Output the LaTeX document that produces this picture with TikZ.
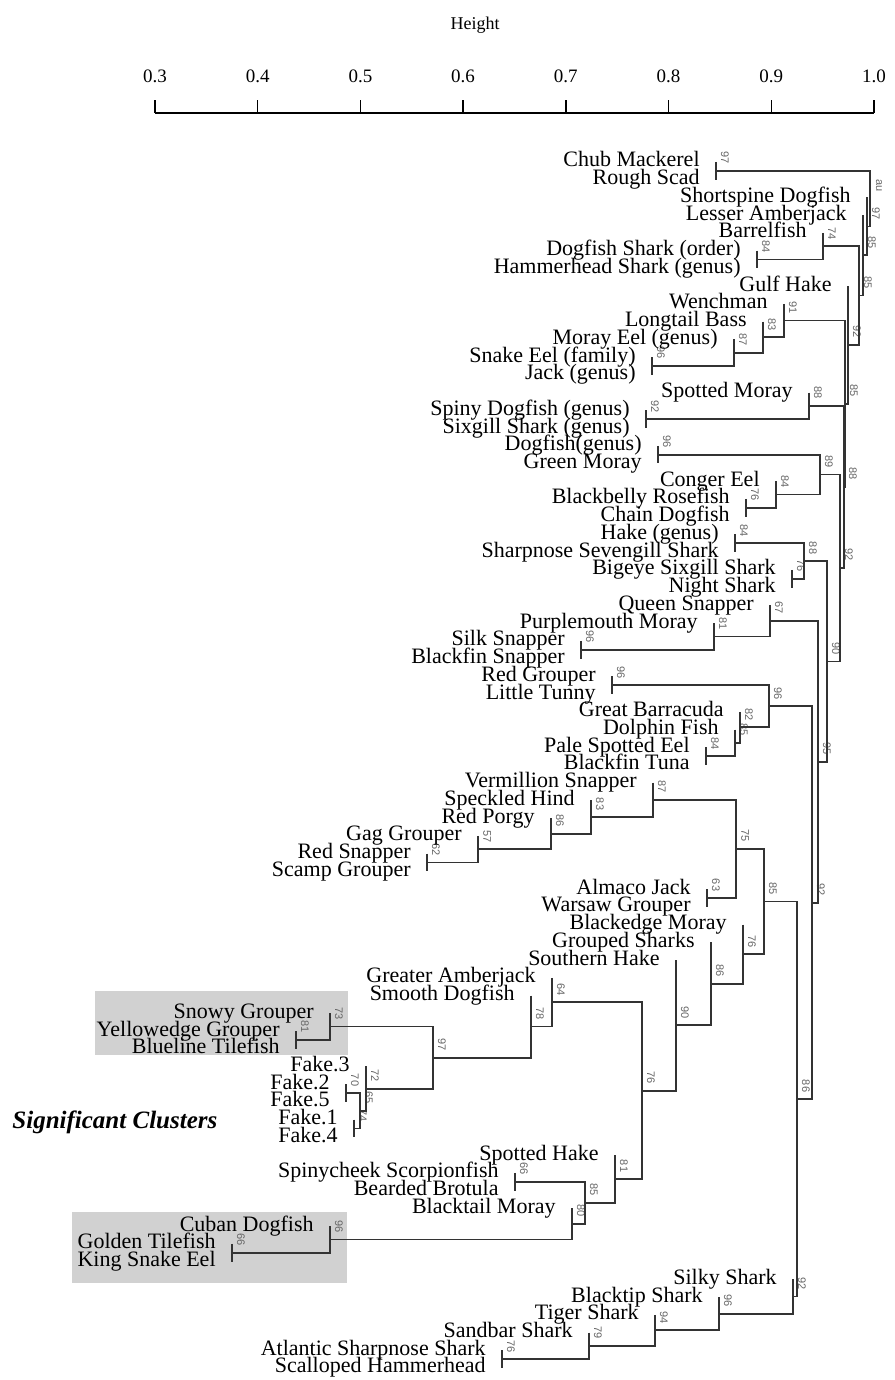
\documentclass[tikz,border=0pt]{standalone}
\usepackage{fontspec}
\setmainfont{Liberation Serif}
\setsansfont{Liberation Sans}
\usetikzlibrary{calc}
\tikzset{>=stealth}
\tikzset{
  branch/.style={line width=0.9pt, draw=black!80},
  fish/.style={anchor=base east, inner sep=0pt, text height=7pt, text depth=1.2pt, font=\fontsize{11}{11}\selectfont},
  pv/.style={rotate=-90, inner sep=0pt, text=black!60, font=\fontsize{5.5}{5.5}\sffamily},
  tick/.style={inner sep=0pt, font=\fontsize{9.5}{9.5}\selectfont},
}
\newcommand\leaf[3]{%
  \coordinate (f#1) at (#2,{162+(#1-1)*17.735});
  \node[fish] (f#1t) at ($(f#1)+(-16,5)$) {#3};}
\newcommand\clust[5]{%
  \path ($(#3)!.5!(#4)$) coordinate (#1m);
  \coordinate (#1) at (#2,0 |- #1m);
  \draw[branch] (#3) -- (#3 -| #1) -- (#4 -| #1) -- (#4);
  \node[pv] (#1v) at ($(#1)+(9,-13)$) {#5};}

\begin{document}
\begin{tikzpicture}[x=0.5pt,y=-0.5pt]
\useasboundingbox (0,0) rectangle (894,1380);
\fill[black!18] (95,991) rectangle (348,1055);
\fill[black!18] (72,1212) rectangle (347,1283);

\node[inner sep=0pt, font=\fontsize{9}{9}\selectfont] (ht) at (475,25) {Height};
\coordinate (ax0) at (155,113);
\coordinate (ax7) at (874,113);
\draw[line width=0.7pt] (ax0) -- (ax7);
\foreach \h [count=\i from 0] in {0.3,0.4,0.5,0.6,0.7,0.8,0.9,1.0}{
  \coordinate (tk\i) at ({155+\i*102.7},113);
  \coordinate (tp\i) at ({155+\i*102.7},100);
  \draw[line width=0.7pt] (tk\i) -- (tp\i);
  \node[tick] (tl\i) at ({155+\i*102.7},76) {\h};
}

\leaf{1}{716}{Chub Mackerel}
\leaf{2}{716}{Rough Scad}
\clust{a97}{716}{f1}{f2}{97}
\leaf{6}{757}{Dogfish Shark (order)}
\leaf{7}{757}{Hammerhead Shark (genus)}
\clust{p84}{757}{f6}{f7}{84}
\leaf{5}{823}{Barrelfish}
\clust{t74}{823}{f5}{p84}{74}
\leaf{12}{652}{Snake Eel (family)}
\leaf{13}{652}{Jack (genus)}
\clust{p96}{652}{f12}{f13}{96}
\leaf{11}{734}{Moray Eel (genus)}
\clust{p87}{734}{f11}{p96}{87}
\leaf{10}{763}{Longtail Bass}
\clust{p83}{763}{f10}{p87}{83}
\leaf{9}{784}{Wenchman}
\clust{p91}{784}{f9}{p83}{91}
\leaf{15}{646}{Spiny Dogfish (genus)}
\leaf{16}{646}{Sixgill Shark (genus)}
\clust{p92}{646}{f15}{f16}{92}
\leaf{14}{809}{Spotted Moray}
\clust{s88}{809}{f14}{p92}{88}
\leaf{17}{658}{Dogfish(genus)}
\leaf{18}{658}{Green Moray}
\clust{g96}{658}{f17}{f18}{96}
\leaf{20}{746}{Blackbelly Rosefish}
\leaf{21}{746}{Chain Dogfish}
\clust{b76}{746}{f20}{f21}{76}
\leaf{19}{776}{Conger Eel}
\clust{c84}{776}{f19}{b76}{84}
\clust{m89}{820}{g96}{c84}{89}
\leaf{22}{735}{Hake (genus)}
\leaf{23}{735}{Sharpnose Sevengill Shark}
\clust{h84}{735}{f22}{f23}{84}
\leaf{24}{792}{Bigeye Sixgill Shark}
\leaf{25}{792}{Night Shark}
\clust{n76}{792}{f24}{f25}{76}
\clust{h88}{804}{h84}{n76}{88}
\leaf{28}{581}{Silk Snapper}
\leaf{29}{581}{Blackfin Snapper}
\clust{s96}{581}{f28}{f29}{96}
\leaf{27}{714}{Purplemouth Moray}
\clust{u81}{714}{f27}{s96}{81}
\leaf{26}{770}{Queen Snapper}
\clust{q67}{770}{f26}{u81}{67}
\leaf{30}{612}{Red Grouper}
\leaf{31}{612}{Little Tunny}
\clust{r96}{612}{f30}{f31}{96}
\leaf{34}{706}{Pale Spotted Eel}
\leaf{35}{706}{Blackfin Tuna}
\clust{e84}{706}{f34}{f35}{84}
\leaf{33}{735}{Dolphin Fish}
\clust{d85}{735}{f33}{e84}{85}
\leaf{32}{740}{Great Barracuda}
\clust{g82}{740}{f32}{d85}{82}
\clust{k96}{769}{r96}{g82}{96}
\leaf{40}{427}{Red Snapper}
\leaf{41}{427}{Scamp Grouper}
\clust{r62}{427}{f40}{f41}{62}
\leaf{39}{478}{Gag Grouper}
\clust{g57}{478}{f39}{r62}{57}
\leaf{38}{551}{Red Porgy}
\clust{r86}{551}{f38}{g57}{86}
\leaf{37}{591}{Speckled Hind}
\clust{s83}{591}{f37}{r86}{83}
\leaf{36}{653}{Vermillion Snapper}
\clust{v87}{653}{f36}{s83}{87}
\leaf{42}{707}{Almaco Jack}
\leaf{43}{707}{Warsaw Grouper}
\clust{a63}{707}{f42}{f43}{63}
\clust{j75}{736}{v87}{a63}{75}
\leaf{50}{296}{Yellowedge Grouper}
\leaf{51}{296}{Blueline Tilefish}
\clust{y81}{296}{f50}{f51}{81}
\leaf{49}{330}{Snowy Grouper}
\clust{s73}{330}{f49}{y81}{73}
\leaf{53}{346}{Fake.2}
\leaf{54}{346}{Fake.5}
\clust{k70}{346}{f53}{f54}{70}
\leaf{55}{354}{Fake.1}
\leaf{56}{354}{Fake.4}
\clust{k74}{354}{f55}{f56}{74}
\clust{k65}{360}{k70}{k74}{65}
\leaf{52}{366}{Fake.3}
\clust{k72}{366}{f52}{k65}{72}
\clust{s97}{433}{s73}{k72}{97}
\leaf{48}{531}{Smooth Dogfish}
\clust{m78}{531}{f48}{s97}{78}
\leaf{47}{552}{Greater Amberjack}
\clust{m64}{552}{f47}{m78}{64}
\leaf{58}{515}{Spinycheek Scorpionfish}
\leaf{59}{515}{Bearded Brotula}
\clust{b66}{515}{f58}{f59}{66}
\leaf{62}{232}{Golden Tilefish}
\leaf{63}{232}{King Snake Eel}
\clust{c66}{232}{f62}{f63}{66}
\leaf{61}{330}{Cuban Dogfish}
\clust{c96}{330}{f61}{c66}{96}
\leaf{60}{572}{Blacktail Moray}
\clust{c80}{572}{f60}{c96}{80}
\clust{b85}{585}{b66}{c80}{85}
\leaf{57}{615}{Spotted Hake}
\clust{h81}{615}{f57}{b85}{81}
\clust{m76}{642}{m64}{h81}{76}
\leaf{46}{676}{Southern Hake}
\clust{m90}{676}{f46}{m76}{90}
\leaf{45}{711}{Grouped Sharks}
\clust{m86}{711}{f45}{m90}{86}
\leaf{44}{743}{Blackedge Moray}
\clust{l76}{743}{f44}{m86}{76}
\clust{k85}{764}{j75}{l76}{85}
\leaf{68}{502}{Atlantic Sharpnose Shark}
\leaf{69}{502}{Scalloped Hammerhead}
\clust{z76}{502}{f68}{f69}{76}
\leaf{67}{589}{Sandbar Shark}
\clust{z79}{589}{f67}{z76}{79}
\leaf{66}{655}{Tiger Shark}
\clust{z94}{655}{f66}{z79}{94}
\leaf{65}{719}{Blacktip Shark}
\clust{z96}{719}{f65}{z94}{96}
\leaf{64}{793}{Silky Shark}
\clust{z92}{793}{f64}{z96}{92}
\clust{t86}{797}{k85}{z92}{86}
\clust{t92}{812}{k96}{t86}{92}
\clust{t95}{818}{q67}{t92}{95}
\clust{t90}{827}{h88}{t95}{90}
\clust{t92b}{840}{m89}{t90}{92}
\clust{t88}{844}{s88}{t92b}{88}
\clust{t85}{845}{p91}{t88}{85}
\leaf{8}{848}{Gulf Hake}
\clust{w92}{848}{f8}{t85}{92}
\clust{z85}{859}{t74}{w92}{85}
\leaf{4}{863}{Lesser Amberjack}
\clust{y85}{863}{f4}{z85}{85}
\leaf{3}{867}{Shortspine Dogfish}
\clust{x97}{867}{f3}{y85}{97}
\clust{root}{870}{a97}{x97}{au}

\node[anchor=base west, inner sep=0pt, font=\fontsize{12.5}{12.5}\selectfont\bfseries\itshape] (sig) at (12,1128) {Significant Clusters};
\end{tikzpicture}
\end{document}
